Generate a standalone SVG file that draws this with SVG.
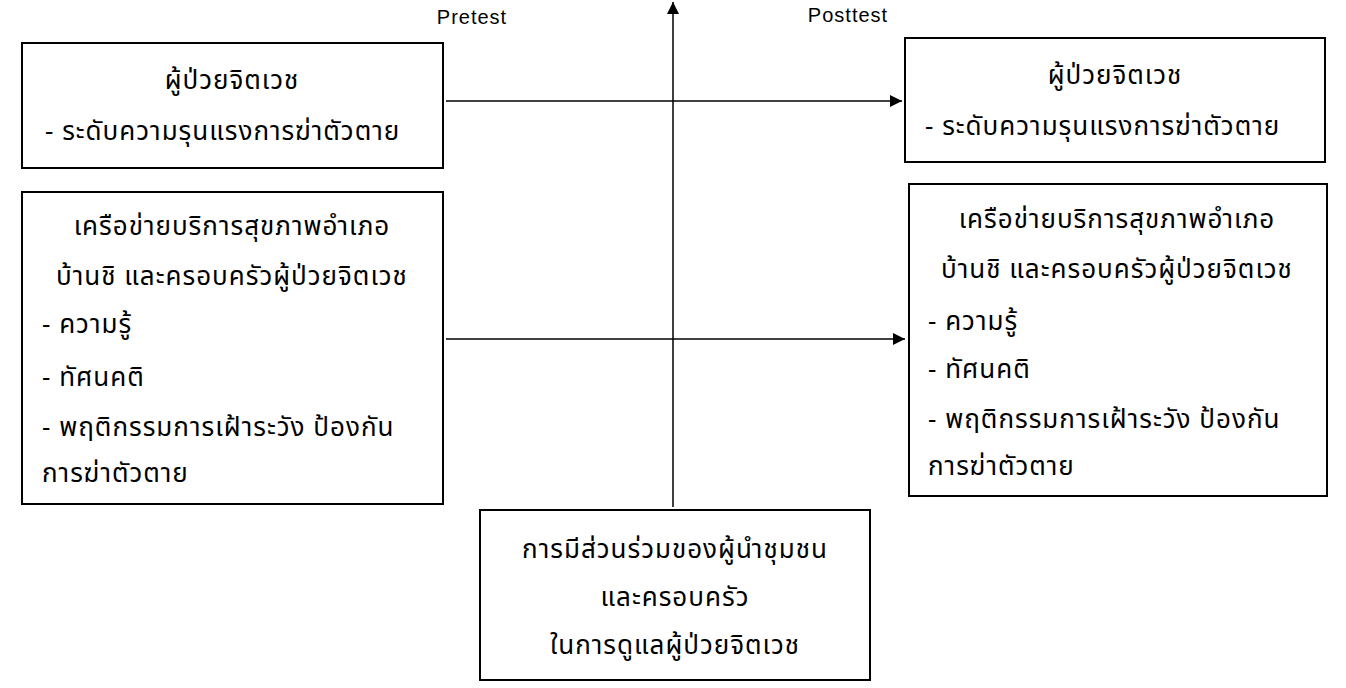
<svg xmlns="http://www.w3.org/2000/svg" width="1346" height="688" viewBox="0 0 1346 688">
<defs>
<marker id="ah" viewBox="0 0 10 10" refX="10" refY="5" markerWidth="12" markerHeight="12" markerUnits="userSpaceOnUse" orient="auto"><path d="M0,0 L10,5 L0,10 z" fill="#000"/></marker>
<style>
.b{fill:#fff;stroke:#000;stroke-width:2}
.t{font-family:"Noto Sans Thai","Noto Sans",sans-serif;font-size:26px;letter-spacing:1px;fill:#000}
.c{text-anchor:middle}
.l{font-family:"Liberation Sans",Arial,sans-serif;font-size:20px;letter-spacing:1px;fill:#000;text-anchor:middle}
.a{stroke:#000;stroke-width:1.5;fill:none;marker-end:url(#ah)}
</style>
</defs>
<rect width="1346" height="688" fill="#fff"/>
<text class="l" x="472" y="24">Pretest</text>
<text class="l" x="848" y="22">Posttest</text>
<g id="connectors">
<line class="a" x1="446" y1="101" x2="902" y2="101"/>
<line class="a" x1="446" y1="339" x2="905" y2="339"/>
<line class="a" x1="673" y1="507" x2="673" y2="2"/>
</g>
<g id="n1"><rect class="b" x="22" y="43" width="421" height="125"/>
<text class="t c" x="232" y="89">ผู้ป่วยจิตเวช</text>
<text class="t" x="45" y="140">- ระดับความรุนแรงการฆ่าตัวตาย</text></g>
<g id="n2"><rect class="b" x="22" y="192" width="421" height="312"/>
<text class="t c" x="232" y="235">เครือข่ายบริการสุขภาพอำเภอ</text>
<text class="t c" x="232" y="285">บ้านชิ และครอบครัวผู้ป่วยจิตเวช</text>
<text class="t" x="42" y="333">- ความรู้</text>
<text class="t" x="42" y="386">- ทัศนคติ</text>
<text class="t" x="42" y="436">- พฤติกรรมการเฝ้าระวัง ป้องกัน</text>
<text class="t" x="42" y="482">การฆ่าตัวตาย</text></g>
<g id="n3"><rect class="b" x="905" y="38" width="420" height="124"/>
<text class="t c" x="1115" y="84">ผู้ป่วยจิตเวช</text>
<text class="t" x="925" y="135">- ระดับความรุนแรงการฆ่าตัวตาย</text></g>
<g id="n4"><rect class="b" x="909" y="184" width="418" height="312"/>
<text class="t c" x="1117" y="228">เครือข่ายบริการสุขภาพอำเภอ</text>
<text class="t c" x="1117" y="278">บ้านชิ และครอบครัวผู้ป่วยจิตเวช</text>
<text class="t" x="928" y="330">- ความรู้</text>
<text class="t" x="928" y="378">- ทัศนคติ</text>
<text class="t" x="928" y="428">- พฤติกรรมการเฝ้าระวัง ป้องกัน</text>
<text class="t" x="928" y="475">การฆ่าตัวตาย</text></g>
<g id="n5"><rect class="b" x="480" y="510" width="390" height="170"/>
<text class="t c" x="675" y="558">การมีส่วนร่วมของผู้นำชุมชน</text>
<text class="t c" x="675" y="606">และครอบครัว</text>
<text class="t c" x="675" y="654">ในการดูแลผู้ป่วยจิตเวช</text></g>
</svg>
